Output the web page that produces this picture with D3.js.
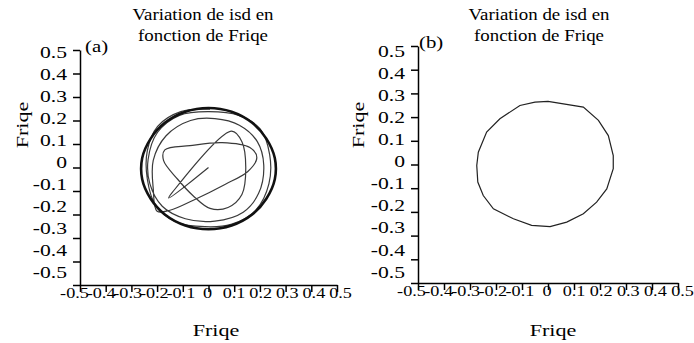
<!DOCTYPE html>
<html>
<head>
<meta charset="utf-8">
<script src="https://cdn.jsdelivr.net/npm/d3@7"></script>
<style>
  body { margin: 0; background: #fff; }
</style>
</head>
<body>
<svg id="chart" width="694" height="343"></svg>
<script>
// tick values / labels (same on both axes, both panels)
const tickValues = [-0.5, -0.4, -0.3, -0.2, -0.1, 0, 0.1, 0.2, 0.3, 0.4, 0.5];
const tickLabels = ["-0.5", "-0.4", "-0.3", "-0.2", "-0.1", "0", "0.1", "0.2", "0.3", "0.4", "0.5"];
const titleLines = ["Variation de isd en", "fonction de Friqe"];
const axisName = "Friqe";

// (a) transient (isd , isq)
const transX = [0.00, -0.155, -0.14, 0.09, 0.13, 0.145, 0.13, 0.076, 0.006, -0.06, -0.12, -0.175, -0.17, -0.072, 0.053,
  0.161, 0.188, 0.153, 0.064, -0.053, -0.150, -0.200,
  -0.215, -0.215, -0.165, -0.07, 0.025, 0.12, 0.19, 0.215, 0.195, 0.135, 0.025, -0.09, -0.18, -0.228, -0.235,
  -0.198, -0.113, -0.002, 0.118, 0.2, 0.238, 0.235, 0.185, 0.088, -0.014, -0.125, -0.205, -0.238, -0.238, -0.198, -0.108, 0.006];
const transY = [0.00, -0.13, -0.105, 0.155, 0.11, 0.00, -0.115, -0.17, -0.174, -0.12, -0.05, 0.03, 0.075, 0.093, 0.106,
  0.085, 0.042, -0.017, -0.072, -0.136, -0.182, -0.186,
  -0.09, 0.03, 0.135, 0.2, 0.208, 0.18, 0.11, 0.01, -0.11, -0.19, -0.228, -0.218, -0.165, -0.07, 0.034,
  0.15, 0.222, 0.238, 0.222, 0.165, 0.055, -0.07, -0.18, -0.242, -0.252, -0.232, -0.162, -0.05, 0.072, 0.175, 0.238, 0.248];

// (a) steady orbit (thick ring)
const orbitX = [0.00, 0.09, 0.17, 0.225, 0.258, 0.258, 0.225, 0.17, 0.09, 0.00, -0.09, -0.17, -0.225, -0.258, -0.258, -0.225, -0.17, -0.09];
const orbitY = [0.253, 0.237, 0.19, 0.123, 0.04, -0.05, -0.133, -0.2, -0.247, -0.263, -0.247, -0.2, -0.133, -0.05, 0.04, 0.123, 0.19, 0.237];

// (b) circle
const circX = [0.00, 0.136, 0.194, 0.232, 0.251, 0.251, 0.226, 0.187, 0.136, 0.072, 0.008, -0.063, -0.133, -0.210, -0.249, -0.270, -0.274, -0.268, -0.236, -0.185, -0.108, -0.050];
const circY = [0.266, 0.242, 0.186, 0.122, 0.038, -0.018, -0.103, -0.159, -0.208, -0.243, -0.262, -0.257, -0.229, -0.187, -0.131, -0.074, -0.004, 0.052, 0.137, 0.193, 0.249, 0.263];

const svg = d3.select('#chart');
const serif = '"Liberation Serif", "Times New Roman", serif';

// stretched text, the source picture is wider than plain Times
function stretched(parent, x, y, str, size, sx, anchor, rot) {
  return parent.append('text')
    .attr('transform', `translate(${x},${y})` + (rot ? ` rotate(${rot})` : '') + ` scale(${sx},1)`)
    .attr('text-anchor', anchor)
    .style('font-family', serif)
    .style('font-size', size + 'px')
    .attr('fill', '#000')
    .text(str);
}

const panels = [
  { tag: "(a)", x0: 80, x1: 337, yTop: 50, yBot: 285, lx0: 74, lx1: 340, ly0: 272, ly1: 52,
    titleX: 203, tagX: 85, tagY: 52, yNameX: 28, xNameX: 216 },
  { tag: "(b)", x0: 418, x1: 678, yTop: 46, yBot: 283, lx0: 411, lx1: 682, ly0: 272, ly1: 51,
    titleX: 539, tagX: 419, tagY: 48, yNameX: 364, xNameX: 553 }
];

panels.forEach((p, k) => {
  const g = svg.append('g');
  const x = d3.scaleLinear().domain([-0.5, 0.5]).range([p.x0, p.x1]);
  const y = d3.scaleLinear().domain([-0.5, 0.5]).range([p.yBot, p.yTop]);
  const xLab = d3.scaleLinear().domain([-0.5, 0.5]).range([p.lx0, p.lx1]);
  const yLab = d3.scaleLinear().domain([-0.5, 0.5]).range([p.ly0, p.ly1]);

  // tick marks
  const xt = g.append('g').attr('transform', `translate(0,${p.yBot})`)
    .call(d3.axisBottom(x).tickValues(tickValues).tickSize(7).tickSizeOuter(0).tickFormat(''));
  const yt = g.append('g').attr('transform', `translate(${p.x0},0)`)
    .call(d3.axisLeft(y).tickValues(tickValues).tickSize(7).tickSizeOuter(0).tickFormat(''));
  [xt, yt].forEach(a => a.selectAll('path,line').attr('stroke', '#000').attr('stroke-width', 1.5));

  // tick labels
  const xl = g.append('g').attr('transform', `translate(0,${p.yBot})`)
    .call(d3.axisBottom(xLab).tickValues(tickValues).tickSize(0).tickPadding(3)
      .tickFormat((d, i) => tickLabels[i]));
  const yl = g.append('g').attr('transform', `translate(${p.x0},0)`)
    .call(d3.axisLeft(yLab).tickValues(tickValues).tickSize(0).tickPadding(13)
      .tickFormat((d, i) => tickLabels[i]));
  [xl, yl].forEach(a => a.select('.domain').remove());
  xl.selectAll('text')
    .style('font-family', serif).style('font-size', '14px')
    .attr('transform', 'scale(1.3,1)');
  yl.selectAll('text')
    .style('font-family', serif).style('font-size', '16px')
    .attr('x', -13 / 1.35).attr('transform', 'scale(1.35,1)');

  // titles
  stretched(g, p.titleX, 20, titleLines[0], 16, 1.18, 'middle');
  stretched(g, p.titleX, 41, titleLines[1], 16, 1.18, 'middle');
  stretched(g, p.tagX, p.tagY, p.tag, 16, 1.3, 'start');
  stretched(g, p.xNameX, 336, axisName, 17, 1.3, 'middle');
  stretched(g, p.yNameX, 125, axisName, 17, 1.3, 'middle', -90);

  // curves
  if (k === 0) {
    const trans = d3.line().x(i => x(transX[i])).y(i => y(transY[i])).curve(d3.curveCatmullRom.alpha(0.5));
    g.append('path').datum(d3.range(transX.length)).attr('d', trans)
      .attr('fill', 'none').attr('stroke', '#3a3a3a').attr('stroke-width', 1.2);
    const orbit = d3.line().x(i => x(orbitX[i])).y(i => y(orbitY[i])).curve(d3.curveCatmullRomClosed);
    g.append('path').datum(d3.range(orbitX.length)).attr('d', orbit)
      .attr('fill', 'none').attr('stroke', '#111').attr('stroke-width', 2.6);
  } else {
    const circ = d3.line().x(i => x(circX[i])).y(i => y(circY[i])).curve(d3.curveLinearClosed);
    g.append('path').datum(d3.range(circX.length)).attr('d', circ)
      .attr('fill', 'none').attr('stroke', '#222').attr('stroke-width', 1.2);
  }
});
</script>
</body>
</html>
